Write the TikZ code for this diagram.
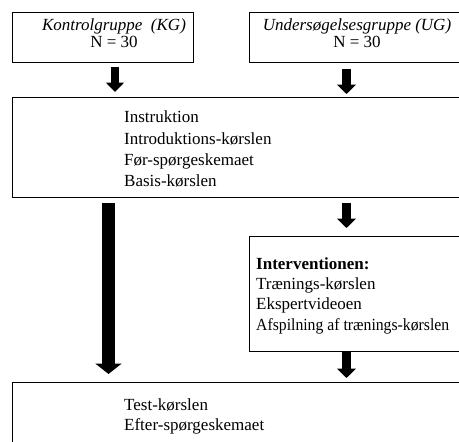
\documentclass[tikz,border=0pt]{standalone}
\usepackage{graphicx}
\usepackage{fontspec}
\setmainfont{Liberation Serif}
\usetikzlibrary{arrows.meta}
\tikzset{
  box/.style={draw=black, line width=0.9pt, inner sep=0pt},
  txt/.style={inner sep=0pt, align=left, anchor=base west},
  hdr/.style={inner sep=0pt, align=center, anchor=base},
  blk/.style={line width=#1, -{Triangle[width=2.1*#1, length=9.5pt]}},
}
\begin{document}
\begin{tikzpicture}[x=1pt,y=-1pt]
\useasboundingbox (0,0) rectangle (459,442);
\begin{scope}
\clip (0,0) rectangle (459,442);
% boxes
\node[box, minimum width=181, minimum height=50] (kg) at (102.5,37) {};
\node[box, minimum width=216, minimum height=50] (ug) at (357,37) {};
\node[box, minimum width=470, minimum height=100] (pre) at (247,147) {};
\node[box, minimum width=216, minimum height=115] (int) at (357,293.5) {};
\node[box, minimum width=470, minimum height=100] (post) at (247,432) {};
\end{scope}
% header texts (base anchor = last line baseline)
\node[hdr, font=\fontsize{17}{17}\selectfont] (kgt) at (114,47) {\textit{Kontrolgruppe\ \ (KG)}\\N = 30};
\node[hdr, font=\fontsize{17}{17}\selectfont] (ugt) at (357,47) {\textit{Undersøgelsesgruppe (UG)}\\N = 30};
% block texts
\node[txt, font=\fontsize{17}{21.3}\selectfont] (pret) at (124,186.7) {Instruktion\\Introduktions-kørslen\\Før-spørgeskemaet\\Basis-kørslen};
\node[txt, font=\fontsize{17}{20.3}\selectfont] (intt) at (256,330.2) {\textbf{Interventionen:}\\Trænings-kørslen\\Ekspertvideoen\\\scalebox{0.925}[1]{Afspilning af trænings-kørslen}};
\node[txt, font=\fontsize{17}{19.5}\selectfont] (postt) at (124,430.2) {Test-kørslen\\Efter-spørgeskemaet};
% arrows
\coordinate (a1s) at (115,67);   \coordinate (a1e) at (115,92);
\coordinate (a2s) at (346.5,69); \coordinate (a2e) at (346.5,94);
\coordinate (a3s) at (346.5,203);\coordinate (a3e) at (346.5,228);
\coordinate (a4s) at (346.5,352);\coordinate (a4e) at (346.5,378);
\coordinate (a5s) at (108.5,203);\coordinate (a5e) at (108.5,374);
\draw[blk=8.5pt] (a1s) -- (a1e);
\draw[blk=9pt] (a2s) -- (a2e);
\draw[blk=9pt] (a3s) -- (a3e);
\draw[blk=9pt] (a4s) -- (a4e);
\draw[line width=13pt, -{Triangle[width=26pt, length=10.5pt]}] (a5s) -- (a5e);
\end{tikzpicture}
\end{document}
